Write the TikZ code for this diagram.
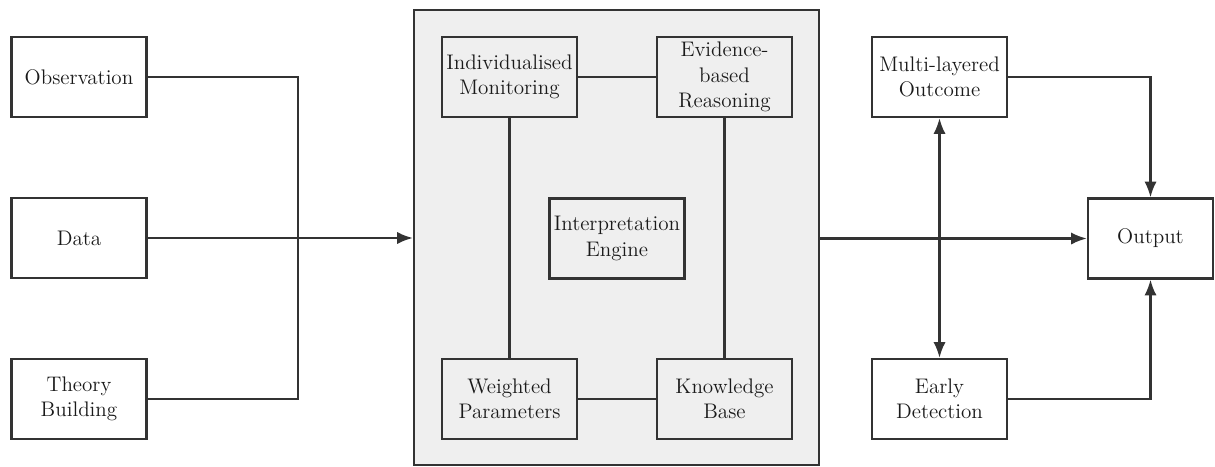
\documentclass[tikz,border=0pt]{standalone}
\usetikzlibrary{arrows.meta,positioning}
\definecolor{linegray}{HTML}{333333}
\definecolor{panelgray}{HTML}{EFEFEF}
\definecolor{textgray}{HTML}{1A1A1A}

\begin{document}
\begin{tikzpicture}[x=0.02cm, y=-0.02cm,
  block/.style={draw=linegray, line width=1.3pt, fill=white, minimum width=2.7cm,
    minimum height=1.6cm, align=center, inner sep=1pt, text=textgray,
    font=\fontsize{12}{14.5}\selectfont},
  inblock/.style={block, fill=panelgray},
  link/.style={draw=linegray, line width=1.3pt},
  flow/.style={link, -{Latex[length=9pt,width=7pt]}}]

  \useasboundingbox (0,0) rectangle (1215,467);

  % Interpretation panel
  \node[draw=linegray, line width=1.3pt, fill=panelgray, minimum width=8.1cm,
    minimum height=9.1cm, inner sep=0pt] (engine) at (616.5,237.5) {};

  % Inputs
  \node[block] (obs) at (79,77) {Observation};
  \node[block] (data) at (79,238) {Data};
  \node[block] (theory) at (79,399) {Theory\\Building};

  % Inside the panel
  \node[inblock] (monitor) at (509.5,77) {Individualised\\Monitoring};
  \node[inblock] (reason) at (724.5,77) {Evidence-\\based\\Reasoning};
  \node[inblock] (interp) at (617,238.5) {Interpretation\\Engine};
  \node[inblock] (weights) at (509.5,399) {Weighted\\Parameters};
  \node[inblock] (kbase) at (724.5,399) {Knowledge\\Base};

  % Outputs
  \node[block] (outcome) at (939.5,77) {Multi-layered\\Outcome};
  \node[block] (early) at (939.5,399) {Early\\Detection};
  \node[block, minimum width=2.5cm] (output) at (1150.5,238.5) {Output};

  \coordinate (join) at (298,238);

  % Input lines
  \draw[link] (obs) -| (join);
  \draw[link] (theory) -| (join);
  \draw[flow] (data.east) -- (data.east -| engine.west);

  % Panel links
  \draw[link] (monitor) -- (reason);
  \draw[link] (monitor) -- (weights);
  \draw[link] (reason) -- (kbase);
  \draw[link] (weights) -- (kbase);

  % Output lines
  \draw[flow] (engine.east |- output.west) -- (output.west);
  \draw[flow] (outcome) -| (output);
  \draw[flow] (early) -| (output);
  \draw[link, {Latex[length=9pt,width=7pt]}-{Latex[length=9pt,width=7pt]}] (outcome) -- (early);

\end{tikzpicture}
\end{document}
